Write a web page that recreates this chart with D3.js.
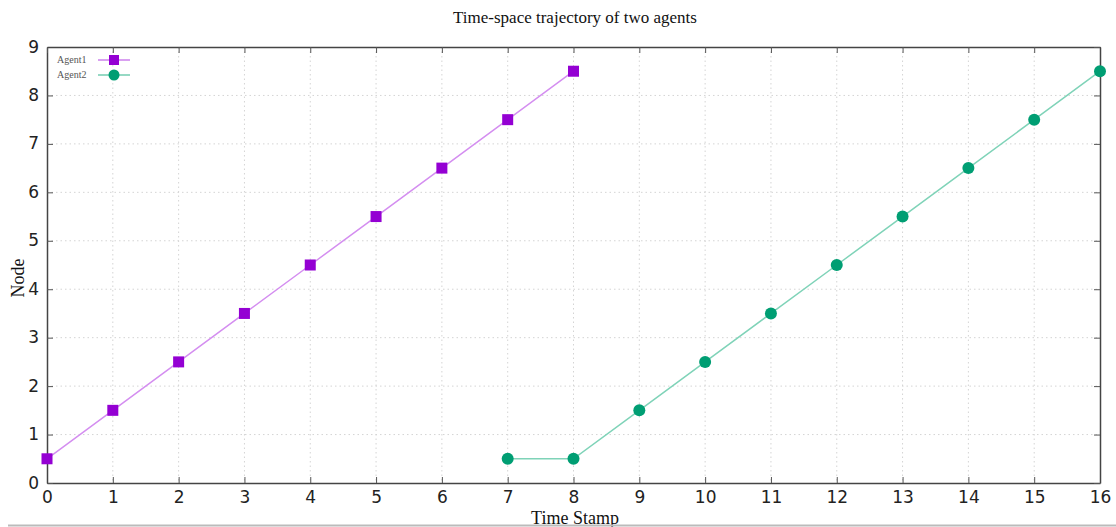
<!DOCTYPE html>
<html>
<head>
<meta charset="utf-8">
<script src="https://cdn.jsdelivr.net/npm/d3@7"></script>
<style>
  body { margin: 0; background: #fff; }
  svg { display: block; }
  .tick text { font-family: "DejaVu Sans", sans-serif; font-size: 17px; fill: #222; }
</style>
</head>
<body>
<svg id="chart" width="1116" height="527"></svg>
<script>
const agent1Time = [0, 1, 2, 3, 4, 5, 6, 7, 8];
const agent1Node = [0.5, 1.5, 2.5, 3.5, 4.5, 5.5, 6.5, 7.5, 8.5];
const agent2Time = [7, 8, 9, 10, 11, 12, 13, 14, 15, 16];
const agent2Node = [0.5, 0.5, 1.5, 2.5, 3.5, 4.5, 5.5, 6.5, 7.5, 8.5];
const xTicks = d3.range(0, 17);
const yTicks = d3.range(0, 10);

const svg = d3.select('#chart');
const plotLeft = 47, plotRight = 1100, plotTop = 47, plotBottom = 483;

const x = d3.scaleLinear().domain([0, 16]).range([plotLeft, plotRight]);
const y = d3.scaleLinear().domain([0, 9]).range([plotBottom, plotTop]);

// grid
svg.append('g').selectAll('line').data(xTicks.slice(1, -1)).join('line')
  .attr('x1', d => x(d)).attr('x2', d => x(d)).attr('y1', plotTop).attr('y2', plotBottom)
  .attr('stroke', '#d4d4d4').attr('stroke-dasharray', '1.5,3');
svg.append('g').selectAll('line').data(yTicks.slice(1, -1)).join('line')
  .attr('y1', d => y(d)).attr('y2', d => y(d)).attr('x1', plotLeft).attr('x2', plotRight)
  .attr('stroke', '#d4d4d4').attr('stroke-dasharray', '1.5,3');

// axes with inward ticks
const xAxis = svg.append('g').attr('transform', `translate(0,${plotBottom})`)
  .call(d3.axisBottom(x).tickValues(xTicks).tickSize(-6).tickPadding(8).tickSizeOuter(0));
const yAxis = svg.append('g').attr('transform', `translate(${plotLeft},0)`)
  .call(d3.axisLeft(y).tickValues(yTicks).tickSize(-6).tickPadding(8).tickSizeOuter(0));
svg.append('g').attr('transform', `translate(0,${plotTop})`)
  .call(d3.axisTop(x).tickValues(xTicks).tickSize(-6).tickFormat('').tickSizeOuter(0));
svg.append('g').attr('transform', `translate(${plotRight},0)`)
  .call(d3.axisRight(y).tickValues(yTicks).tickSize(-6).tickFormat('').tickSizeOuter(0));
svg.selectAll('.domain').attr('stroke', '#444').attr('stroke-width', 1.5);
svg.selectAll('.tick line').attr('stroke', '#555');
yAxis.selectAll('.tick text').attr('dy', '0.3em');
xAxis.selectAll('.tick text').attr('dy', '0.72em');

// lines
const a1 = agent1Time.map((t, i) => [t, agent1Node[i]]);
const a2 = agent2Time.map((t, i) => [t, agent2Node[i]]);
const line = d3.line().x(d => x(d[0])).y(d => y(d[1]));

svg.append('path').attr('d', line(a1)).attr('fill', 'none')
  .attr('stroke', '#d48ef0').attr('stroke-width', 1.5);
svg.append('path').attr('d', line(a2)).attr('fill', 'none')
  .attr('stroke', '#7fd3b8').attr('stroke-width', 1.5);

svg.append('g').selectAll('rect').data(a1).join('rect')
  .attr('x', d => x(d[0]) - 5.5).attr('y', d => y(d[1]) - 5.5)
  .attr('width', 11).attr('height', 11).attr('fill', '#9400d3');
svg.append('g').selectAll('circle').data(a2).join('circle')
  .attr('cx', d => x(d[0])).attr('cy', d => y(d[1])).attr('r', 6)
  .attr('fill', '#009e73');

// legend
const legend = svg.append('g').attr('font-family', 'Liberation Serif, serif').attr('font-size', 10).attr('fill', '#555');
legend.append('text').attr('x', 57).attr('y', 63).text('Agent1');
legend.append('line').attr('x1', 98).attr('x2', 130).attr('y1', 60).attr('y2', 60)
  .attr('stroke', '#c060e8').attr('stroke-width', 1.2);
legend.append('rect').attr('x', 109).attr('y', 55).attr('width', 10).attr('height', 10).attr('fill', '#9400d3');
legend.append('text').attr('x', 57).attr('y', 78).text('Agent2');
legend.append('line').attr('x1', 98).attr('x2', 130).attr('y1', 75).attr('y2', 75)
  .attr('stroke', '#50c09c').attr('stroke-width', 1.2);
legend.append('circle').attr('cx', 114).attr('cy', 75).attr('r', 5.5).attr('fill', '#009e73');

// titles
svg.append('text').attr('x', 575).attr('y', 23).attr('text-anchor', 'middle')
  .attr('font-family', 'Liberation Serif, serif').attr('font-size', 17).attr('fill', '#111')
  .text('Time-space trajectory of two agents');
svg.append('text').attr('x', 575).attr('y', 524).attr('text-anchor', 'middle')
  .attr('font-family', 'Liberation Serif, serif').attr('font-size', 18).attr('fill', '#111')
  .text('Time Stamp');
svg.append('text').attr('transform', 'translate(24,278) rotate(-90)').attr('text-anchor', 'middle')
  .attr('font-family', 'Liberation Serif, serif').attr('font-size', 18).attr('fill', '#111')
  .text('Node');

// bottom separator
svg.append('line').attr('x1', 8).attr('x2', 1116).attr('y1', 525.5).attr('y2', 525.5)
  .attr('stroke', '#bbb').attr('stroke-width', 2);
</script>
</body>
</html>
